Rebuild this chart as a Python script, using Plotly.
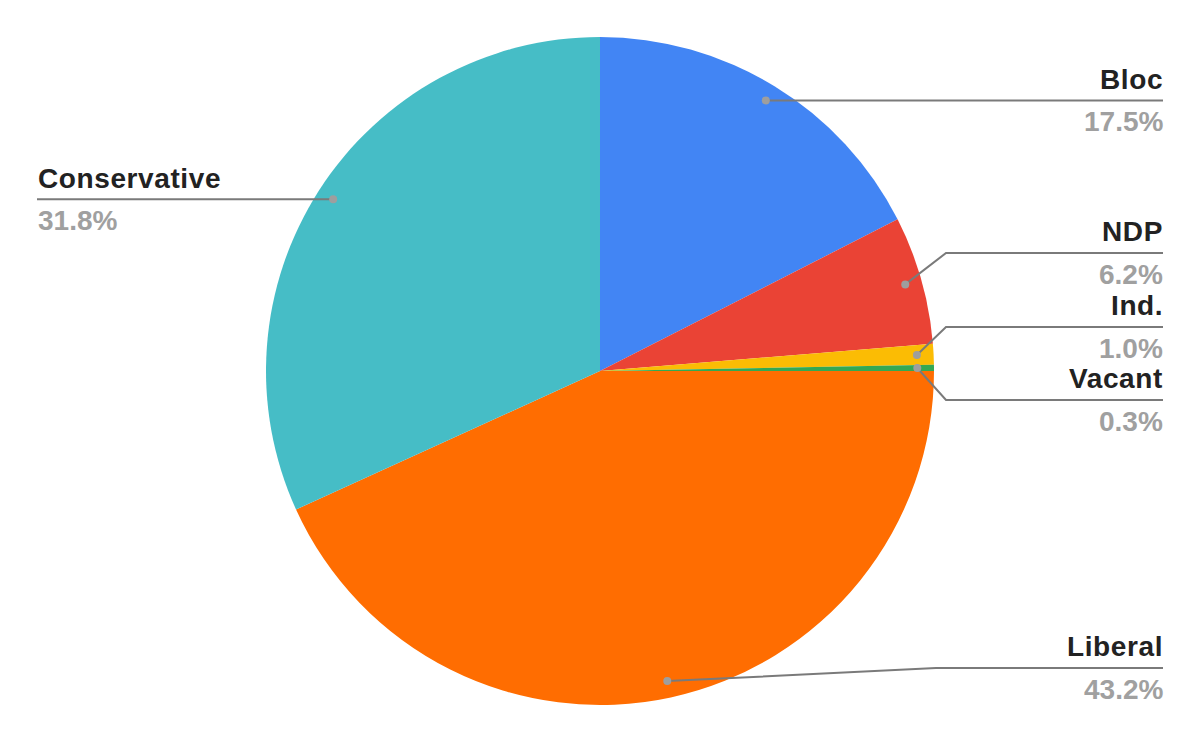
import math
import plotly.graph_objects as go

# ---- data ----
parties = ["Bloc", "NDP", "Ind.", "Vacant", "Liberal", "Conservative"]
shares = [17.5, 6.2, 1.0, 0.3, 43.2, 31.8]
colors = ["#4285F4", "#EA4335", "#FBBC04", "#34A853", "#FF6D01", "#46BDC6"]

# ---- label layout (screen pixel coords) ----
label_line_y = [100, 253, 327, 400, 668, 199]
label_side = ["r", "r", "r", "r", "r", "l"]
elbow_x = [None, 946, 946, 946, 936, None]

W, H = 1200, 742
OFF = 8  # page body margin
cx, cy = 600.0, 371.0  # screen coords
R = 334.0
fcx, fcy = cx - OFF, cy - OFF  # figure coords
dom_y = [(H - (fcy + R)) / H, (H - (fcy - R)) / H]
dom_x = [0, 2 * fcx / W]

FONT = "Liberation Sans, Arial, sans-serif"
FS = 28

fig = go.Figure()
fig.add_trace(go.Pie(
    labels=parties, values=shares, sort=False, direction="clockwise", rotation=0,
    marker=dict(colors=colors, line=dict(width=0)),
    textinfo="none", hoverinfo="label+percent", showlegend=False,
    domain=dict(x=dom_x, y=dom_y),
))

shapes = []
annotations = []
total = sum(shares)
cum = 0.0
line_col = "#7a7a7a"
dot_col = "#9e9e9e"
for i, (p, v) in enumerate(zip(parties, shares)):
    theta = 2 * math.pi * (cum + v / 2) / total
    cum += v
    dx = cx + 0.95 * R * math.sin(theta)
    dy = cy - 0.95 * R * math.cos(theta)
    ly = label_line_y[i]
    if label_side[i] == "r":
        end_x = 1163
        tx = 1165
        xa = "right"
    else:
        end_x = 37
        tx = 36
        xa = "left"
    if elbow_x[i] is None:
        path = f"M {dx},{dy} L {end_x},{dy}"
        ly = dy
    else:
        path = f"M {dx},{dy} L {elbow_x[i]},{ly} L {end_x},{ly}"
    shapes.append(dict(type="path", path=path, xref="x", yref="y",
                       line=dict(color=line_col, width=2), layer="above"))
    shapes.append(dict(type="circle", xref="x", yref="y",
                       x0=dx - 4, x1=dx + 4, y0=dy - 4, y1=dy + 4,
                       fillcolor=dot_col, line=dict(width=0), layer="above"))
    annotations.append(dict(x=tx, y=ly, xref="x", yref="y",
                            text=f'<span style="letter-spacing:0.6px">{p}</span>',
                            showarrow=False, xanchor=xa, yanchor="bottom", yshift=3.6,
                            font=dict(family=FONT, size=FS, color="#222222", weight=700)))
    annotations.append(dict(x=tx, y=ly, xref="x", yref="y", text=f"{v:.1f}%",
                            showarrow=False, xanchor=xa, yanchor="top", yshift=-3.7,
                            font=dict(family=FONT, size=FS, color="#a0a0a0", weight=700)))

fig.update_layout(
    width=W, height=H, margin=dict(l=0, r=0, t=0, b=0),
    paper_bgcolor="white", plot_bgcolor="white",
    xaxis=dict(range=[OFF, W + OFF], visible=False, fixedrange=True),
    yaxis=dict(range=[H + OFF, OFF], visible=False, fixedrange=True),
    shapes=shapes, annotations=annotations,
)
fig.write_html("out.html")
